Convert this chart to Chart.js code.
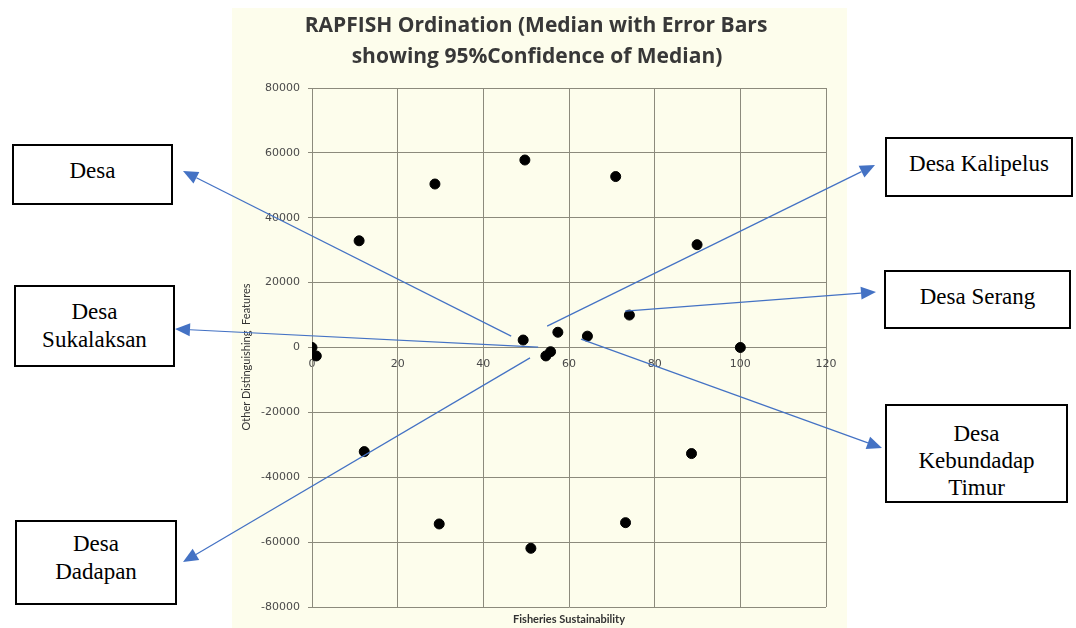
<!DOCTYPE html>
<html>
<head>
<meta charset="utf-8">
<script src="https://cdn.jsdelivr.net/npm/chart.js@4.4.1/dist/chart.umd.min.js"></script>
<style>
  html, body { margin: 0; padding: 0; background: #fff; }
  #wrap { position: relative; width: 1076px; height: 628px; overflow: hidden; }
  canvas { position: absolute; left: 0; top: 0; }
  .lbl {
    position: absolute; box-sizing: border-box; border: 2px solid #000; background: #fff;
    font-family: 'Liberation Serif', 'Times New Roman', serif; font-size: 23px; line-height: 28px;
    text-align: center; color: #000; overflow: hidden;
  }
</style>
</head>
<body>
<div id="wrap">
  <canvas id="rapfish" width="1076" height="628"></canvas>
  <div class="lbl" style="left:12px;top:144px;width:161px;height:61px;padding-top:11px;">Desa</div>
  <div class="lbl" style="left:14px;top:285px;width:161px;height:82px;padding-top:11px;">Desa<br>Sukalaksan</div>
  <div class="lbl" style="left:15px;top:520px;width:162px;height:85px;padding-top:8px;">Desa<br>Dadapan</div>
  <div class="lbl" style="left:885px;top:137px;width:188px;height:60px;padding-top:11px;">Desa Kalipelus</div>
  <div class="lbl" style="left:884px;top:270px;width:187px;height:59px;padding-top:11px;">Desa Serang</div>
  <div class="lbl" style="left:885px;top:404px;width:183px;height:99px;padding-top:14px;line-height:27px;">Desa<br>Kebundadap<br>Timur</div>
</div>
<script>
// ordination points (median)
const sustainability = [0, 1, 11, 28.7, 49.7, 49.3, 54.6, 55.7, 57.4, 64.3, 74.1, 100, 70.9, 89.9, 12.2, 29.7, 51.1, 88.6, 73.2];
const otherFeatures = [0, -2600, 32900, 50400, 57800, 2300, -2600, -1300, 4700, 3500, 10000, 0, 52700, 31700, -32100, -54400, -61900, -32700, -54000];

const xTicks = [0, 20, 40, 60, 80, 100, 120];
const yTicks = [-80000, -60000, -40000, -20000, 0, 20000, 40000, 60000, 80000];

// arrow callouts: where each arrow starts (data units) and where its head points (page)
const pointerX = [46.5, 52.8, 50.9, 54.9, 73.1, 62.8];
const pointerY = [3500, 100, -3200, 6600, 11200, 2600];
const headX = [183, 175, 183, 875, 876, 882];
const headY = [171, 329, 562, 165, 292, 448];

const points = sustainability.map((v, i) => ({ x: v, y: otherFeatures[i] }));

const decorations = {
  id: 'decorations',
  beforeDraw(chart) {
    const ctx = chart.ctx;
    ctx.save();
    ctx.fillStyle = '#fdfdec';
    ctx.fillRect(232, 8, 615, 620);
    ctx.restore();
  },
  afterDraw(chart) {
    const ctx = chart.ctx;
    const area = chart.chartArea;
    ctx.save();
    // title
    ctx.fillStyle = '#383838';
    ctx.textAlign = 'center';
    ctx.textBaseline = 'middle';
    ctx.font = 'bold 21px "Open Sans"';
    ctx.fillText('RAPFISH Ordination (Median with Error Bars', 536, 26);
    ctx.fillText('showing 95%Confidence of Median)', 537, 57);
    // axis titles
    ctx.fillStyle = '#333';
    ctx.font = 'bold 11px Lato';
    ctx.fillText('Fisheries Sustainability', (area.left + area.right) / 2, 619);
    ctx.translate(246, 357);
    ctx.rotate(-Math.PI / 2);
    ctx.font = '11px Lato';
    ctx.fillText('Other Distinguishing  Features', 0, 0);
    ctx.restore();

    // arrows
    const xs = chart.scales.x, ys = chart.scales.y;
    ctx.save();
    ctx.strokeStyle = '#4472c4';
    ctx.fillStyle = '#4472c4';
    ctx.lineWidth = 1.2;
    pointerX.forEach((px, i) => {
      const x0 = xs.getPixelForValue(px), y0 = ys.getPixelForValue(pointerY[i]);
      const x1 = headX[i], y1 = headY[i];
      const a = Math.atan2(y1 - y0, x1 - x0);
      const len = 15, half = 6.5;
      const bx = x1 - len * Math.cos(a), by = y1 - len * Math.sin(a);
      ctx.beginPath();
      ctx.moveTo(x0, y0);
      ctx.lineTo(bx, by);
      ctx.stroke();
      ctx.beginPath();
      ctx.moveTo(x1, y1);
      ctx.lineTo(bx + half * Math.sin(a), by - half * Math.cos(a));
      ctx.lineTo(bx - half * Math.sin(a), by + half * Math.cos(a));
      ctx.closePath();
      ctx.fill();
    });
    ctx.restore();
  }
};

const ctx = document.getElementById('rapfish');
new Chart(ctx, {
  type: 'scatter',
  data: {
    datasets: [{
      data: points,
      backgroundColor: '#000',
      borderColor: '#000',
      pointRadius: 5,
      pointHoverRadius: 5
    }]
  },
  options: {
    responsive: false,
    animation: false,
    layout: { padding: { left: 232, right: 250, top: 88, bottom: 21 } },
    plugins: { legend: { display: false }, tooltip: { enabled: false } },
    scales: {
      x: {
        type: 'linear',
        position: { y: 0 },
        min: 0, max: 120,
        afterBuildTicks: (s) => { s.ticks = xTicks.map(v => ({ value: v })); },
        ticks: { color: '#4a4a4a', font: { family: 'DejaVu Sans', size: 11 }, padding: 4, maxRotation: 0 },
        grid: { color: '#8c8a7c', lineWidth: 1, tickLength: 6 },
        border: { color: '#8c8a7c' }
      },
      y: {
        type: 'linear',
        min: -80000, max: 80000,
        afterBuildTicks: (s) => { s.ticks = yTicks.map(v => ({ value: v })); },
        afterFit: (s) => { s.width = 80; },
        ticks: { color: '#4a4a4a', font: { family: 'DejaVu Sans', size: 11 }, padding: 8, callback: (v) => String(v) },
        grid: { color: '#8c8a7c', lineWidth: 1, tickLength: 4 },
        border: { color: '#8c8a7c' }
      }
    }
  },
  plugins: [decorations]
});
</script>
</body>
</html>
